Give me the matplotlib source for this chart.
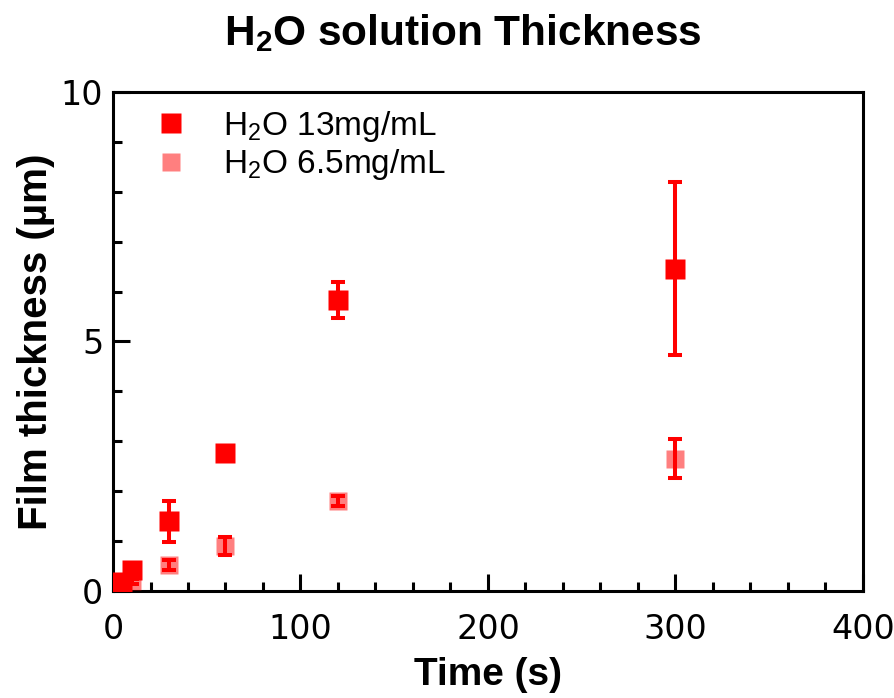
import matplotlib
matplotlib.use("Agg")
import matplotlib.pyplot as plt
from matplotlib.ticker import MultipleLocator
from matplotlib.lines import Line2D

# Data
time_13 = [5, 10, 30, 60, 120, 300]
thick_13 = [0.18, 0.42, 1.40, 2.77, 5.83, 6.46]
err_13 = [0.05, 0.05, 0.41, 0.05, 0.36, 1.73]

time_65 = [5, 10, 30, 60, 120, 300]
thick_65 = [0.10, 0.20, 0.52, 0.90, 1.80, 2.65]
err_65 = [0.03, 0.05, 0.10, 0.18, 0.10, 0.39]

labels = [r"H$_2$O 13mg/mL", r"H$_2$O 6.5mg/mL"]
title = r"H$_\mathbf{2}$O solution Thickness"
xlabel = "Time (s)"
ylabel = "Film thickness (µm)"

plt.rcParams["mathtext.fontset"] = "custom"
plt.rcParams["mathtext.rm"] = "Liberation Sans"
plt.rcParams["mathtext.bf"] = "Liberation Sans:bold"

red = (1, 0, 0)
pink = (1, 0, 0, 0.5)

fig = plt.figure(figsize=(8.94, 6.98), dpi=100)
ax = fig.add_axes([0.1264, 0.1533, 0.8389, 0.7149])

ax.errorbar(time_13, thick_13, yerr=err_13, fmt="s", color=red,
            ecolor=red, elinewidth=2.9, capsize=5, capthick=2.9,
            markersize=15, markeredgecolor="none", zorder=3)
ax.errorbar(time_65, thick_65, yerr=err_65, fmt="s",
            markerfacecolor=pink, markeredgecolor="none",
            ecolor=red, elinewidth=2.9, capsize=5, capthick=2.9,
            markersize=12.7, zorder=3)

ax.set_xlim(0, 400)
ax.set_ylim(0, 10)
ax.xaxis.set_major_locator(MultipleLocator(100))
ax.xaxis.set_minor_locator(MultipleLocator(20))
ax.yaxis.set_major_locator(MultipleLocator(5))
ax.yaxis.set_minor_locator(MultipleLocator(1))
ax.tick_params(which="both", direction="in", width=2.2, labelsize=24)
ax.tick_params(axis="x", which="major", pad=16)
ax.tick_params(axis="y", which="major", pad=7)
ax.tick_params(which="major", length=12)
ax.tick_params(which="minor", length=6.5)
for s in ax.spines.values():
    s.set_linewidth(2.2)

ax.set_xlabel(xlabel, fontsize=28, fontweight="bold",
              fontfamily="Liberation Sans", labelpad=8)
ax.set_ylabel(ylabel, fontsize=29, fontweight="bold",
              fontfamily="Liberation Sans", labelpad=4)
fig.suptitle(title, fontsize=30.5, fontweight="bold",
             fontfamily="Liberation Sans", x=0.518, y=0.982)

handles = [
    Line2D([], [], marker="s", linestyle="none", markersize=15,
           markerfacecolor=red, markeredgecolor="none"),
    Line2D([], [], marker="s", linestyle="none", markersize=12.7,
           markerfacecolor=pink, markeredgecolor="none"),
]
leg = ax.legend(handles, labels, loc="upper left", bbox_to_anchor=(0.0, 1.026),
                frameon=False, prop={"family": "Liberation Sans", "size": 24},
                handletextpad=0.7, labelspacing=0.1, borderaxespad=0.5,
                handlelength=1.7, numpoints=1)

fig.savefig("out.png", dpi=100)
